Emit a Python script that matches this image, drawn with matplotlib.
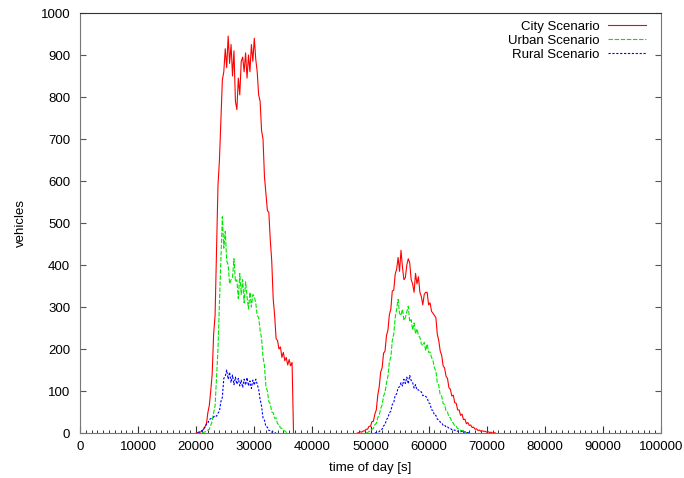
import numpy as np
import matplotlib
matplotlib.use("Agg")
import matplotlib.pyplot as plt

plt.rcParams['font.family'] = ['Liberation Sans', 'DejaVu Sans']

# sampling step of the simulated counts [s]
step = 250

# morning peak, values every 250 s starting at the given time
city_am_start = 20250
city_am = [1, 3, 2, 6, 8, 15, 20, 48, 65, 100,
           140, 235, 280, 430, 590, 650, 745, 840, 860, 915,
           870, 945, 880, 925, 850, 910, 790, 770, 845, 805,
           885, 895, 860, 905, 845, 900, 860, 925, 885, 940,
           890, 860, 805, 790, 720, 700, 610, 570, 530, 525,
           460, 410, 320, 280, 225, 220, 200, 205, 180, 192,
           172, 180, 162, 175, 160, 168]
urban_am_start = 21250
urban_am = [1, 3, 3, 7, 9, 18, 28, 48, 65, 135,
            200, 310, 410, 515, 440, 480, 410, 400, 355, 365,
            370, 415, 360, 365, 320, 380, 330, 365, 310, 360,
            325, 295, 335, 300, 330, 325, 310, 280, 275, 245,
            225, 180, 160, 110, 100, 75, 70, 50, 48, 35,
            36, 22, 20, 12, 11, 6, 5, 2]
rural_am_start = 20500
rural_am = [1, 4, 5, 11, 13, 22, 23, 32, 34, 36,
            38, 42, 40, 47, 52, 75, 85, 130, 135, 150,
            128, 145, 120, 138, 115, 133, 116, 130, 112, 126,
            108, 128, 114, 132, 112, 124, 106, 126, 114, 128,
            116, 104, 80, 64, 36, 30, 15, 14, 6, 6,
            2, 3, 1]

# afternoon peak
city_pm_start = 48000
city_pm = [1, 3, 2, 5, 5, 9, 9, 16, 16, 27,
           28, 45, 55, 90, 110, 145, 155, 190, 195, 232,
           245, 282, 295, 338, 340, 378, 390, 418, 385, 435,
           395, 365, 370, 400, 415, 405, 365, 355, 335, 380,
           355, 372, 335, 325, 305, 330, 335, 335, 305, 310,
           290, 285, 280, 275, 235, 220, 195, 185, 160, 155,
           135, 130, 108, 104, 88, 90, 72, 71, 55, 55,
           42, 45, 32, 33, 22, 25, 18, 19, 13, 14,
           9, 10, 6, 7, 4, 5, 4, 4, 2, 3,
           1, 2, 0, 1]
urban_pm_start = 49500
urban_pm = [1, 4, 4, 9, 11, 20, 23, 37, 43, 58,
            67, 88, 97, 119, 135, 170, 180, 220, 235, 275,
            295, 318, 285, 280, 295, 268, 275, 288, 302, 265,
            270, 245, 262, 236, 248, 232, 228, 212, 208, 216,
            196, 212, 192, 193, 180, 173, 155, 148, 120, 114,
            90, 88, 70, 68, 52, 50, 38, 36, 26, 24,
            16, 16, 10, 10, 6, 6, 3, 3, 1]
rural_pm_start = 51000
rural_pm = [1, 3, 3, 8, 9, 17, 20, 32, 36, 48,
            52, 68, 72, 90, 93, 108, 110, 120, 112, 128,
            118, 133, 117, 137, 125, 120, 107, 115, 102, 103,
            99, 98, 89, 90, 87, 84, 72, 70, 55, 54,
            42, 42, 33, 31, 26, 25, 18, 19, 14, 15,
            11, 11, 8, 9, 6, 7, 4, 5, 3, 4,
            1, 3, 0, 1]

labels = ['City Scenario', 'Urban Scenario', 'Rural Scenario']


def series(am_start, am, pm_start, pm):
    # both peaks in one line, broken by a NaN between them
    t_am = am_start + step * np.arange(len(am))
    t_pm = pm_start + step * np.arange(len(pm))
    t = np.concatenate([[am_start - step], t_am, [t_am[-1] + step, np.nan,
                        pm_start - step], t_pm, [t_pm[-1] + step]])
    v = np.concatenate([[0], am, [0, np.nan, 0], pm, [0]])
    return t, v


fig = plt.figure(figsize=(6.84, 4.78), dpi=100)
ax = fig.add_axes([80 / 684, 45 / 478, 581 / 684, 420 / 478])

t, v = series(city_am_start, city_am, city_pm_start, city_pm)
ax.plot(t, v, color='#ff0000', lw=0.8, label=labels[0])
t, v = series(urban_am_start, urban_am, urban_pm_start, urban_pm)
ax.plot(t, v, color='#00e600', lw=0.8, dashes=(4, 1.5), label=labels[1])
t, v = series(rural_am_start, rural_am, rural_pm_start, rural_pm)
ax.plot(t, v, color='#0000ff', lw=0.8, dashes=(2, 1.5), label=labels[2])

ax.set_xlim(0, 100000)
ax.set_ylim(0, 1000)
ax.set_xticks(np.arange(0, 100001, 10000))
ax.set_xticks(np.arange(0, 100001, 1000), minor=True)
ax.set_yticks(np.arange(0, 1001, 100))
ax.tick_params(axis='x', which='major', direction='in', length=5, width=0.8,
               labelsize=9.5, pad=6, colors='#333333', labelcolor='black')
ax.tick_params(axis='x', which='minor', direction='in', length=2.5, width=0.7,
               colors='#333333')
ax.tick_params(axis='y', which='major', direction='in', length=4.5, width=0.8,
               labelsize=9.5, pad=7, right=True, colors='#555555',
               labelcolor='black')
for side in ['left', 'right', 'bottom']:
    ax.spines[side].set_color('#777777')
ax.spines['top'].set_color('#333333')

ax.set_xlabel('time of day [s]', fontsize=9.5, labelpad=6)
ax.set_ylabel('vehicles', fontsize=9.5, labelpad=10)

leg = ax.legend(loc='upper right', bbox_to_anchor=(0.983, 0.995),
                frameon=False, markerfirst=False, fontsize=9.5,
                handlelength=2.9, labelspacing=0.13, handletextpad=0.6,
                borderaxespad=0.0)

fig.savefig('out.png', dpi=100)
